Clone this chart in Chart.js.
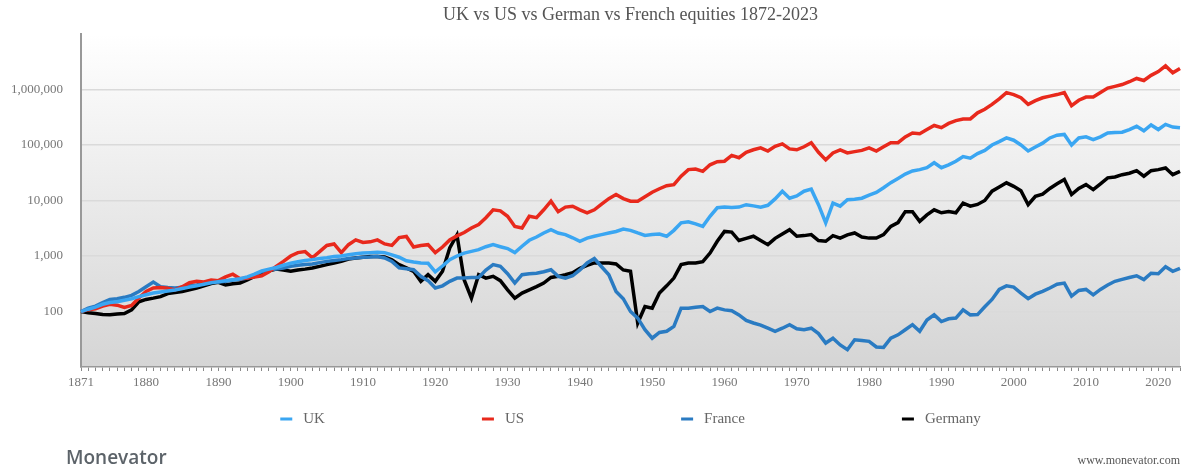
<!DOCTYPE html>
<html>
<head>
<meta charset="utf-8">
<script src="https://cdn.jsdelivr.net/npm/chart.js@4.4.1/dist/chart.umd.min.js"></script>
<style>
    html, body { margin: 0; padding: 0; background: #fff; }
    #wrap { width: 1196px; height: 470px; position: relative; }
</style>
</head>
<body>
<div id="wrap"><canvas id="equitiesChart" width="1196" height="470"></canvas></div>
<script>
// Años 1871-2023
const years = [];
for (let y = 1871; y <= 2023; y++) years.push(y);

// Valores (base 100 en 1871, escala logarítmica)
const ukValues = [
    100, 110, 120, 135, 145, 150, 160, 170, 185, 200,
    215, 225, 235, 245, 260, 275, 290, 310, 330, 345,
    360, 375, 390, 420, 470, 540, 580, 620, 680, 740,
    790, 830, 860, 900, 930, 980, 1000, 1050, 1100, 1130,
    1150, 1170, 1150, 1050, 950, 820, 780, 750, 740, 520,
    660, 860, 1000, 1130, 1210, 1300, 1470, 1600, 1470, 1360,
    1150, 1500, 1920, 2200, 2600, 2980, 2600, 2430, 2130, 1840,
    2100, 2270, 2430, 2600, 2770, 3050, 2900, 2600, 2350, 2430,
    2480, 2270, 2900, 3950, 4150, 3800, 3420, 5200, 7400, 7600,
    7500, 7600, 8400, 8000, 7600, 8200, 10700, 14700, 11000, 12100,
    14700, 16000, 8400, 3950, 9000, 7900, 10300, 10500, 11000, 12500,
    14000, 17000, 21000, 25000, 30000, 34000, 36000, 39000, 48000, 39000,
    44000, 51000, 62000, 58000, 70000, 80000, 100000, 115000, 134000, 122000,
    100000, 78000, 92000, 108000, 134000, 150000, 155000, 100000, 134000, 140000,
    125000, 140000, 165000, 168000, 170000, 190000, 217000, 180000, 230000, 190000,
    235000, 210000, 205000
];

const usValues = [
    100, 108, 112, 125, 135, 130, 118, 128, 175, 230,
    265, 270, 262, 245, 280, 330, 350, 340, 370, 360,
    420, 470, 390, 400, 420, 440, 520, 650, 800, 1000,
    1150, 1200, 930, 1200, 1550, 1650, 1150, 1600, 1950, 1750,
    1800, 1950, 1650, 1550, 2150, 2250, 1450, 1550, 1600, 1150,
    1450, 1950, 2300, 2650, 3200, 3700, 4900, 6800, 6500, 5200,
    3400, 3200, 5200, 4900, 6800, 9700, 6300, 7600, 7900, 6800,
    6000, 6800, 8600, 10800, 12800, 10800, 9700, 9700, 11700, 14100,
    16300, 18500, 19300, 27400, 36000, 37000, 33500, 44000, 50000, 51000,
    65000, 59000, 74000, 82000, 89000, 78000, 95000, 105000, 85000, 82000,
    93000, 110000, 74000, 54000, 72000, 82000, 72000, 76000, 80000, 89000,
    78000, 93000, 110000, 110000, 140000, 165000, 160000, 190000, 225000, 205000,
    245000, 275000, 295000, 295000, 380000, 440000, 540000, 680000, 880000, 810000,
    710000, 540000, 630000, 710000, 760000, 810000, 880000, 510000, 640000, 730000,
    730000, 880000, 1060000, 1140000, 1230000, 1380000, 1580000, 1450000, 1800000, 2100000,
    2660000, 2000000, 2400000
];

const franceValues = [
    100, 115, 125, 145, 165, 170, 180, 195, 230, 280,
    340, 280, 270, 265, 275, 290, 300, 320, 350, 340,
    350, 370, 380, 400, 450, 520, 560, 580, 610, 650,
    680, 700, 720, 760, 800, 830, 860, 900, 920, 950,
    960, 980, 920, 800, 610, 590, 565, 430, 360, 265,
    290, 350, 400, 400, 410, 410, 560, 700, 650, 480,
    325, 460, 480, 490, 520, 565, 430, 400, 440, 560,
    750, 900, 640, 460, 230, 170, 100, 76, 47, 33,
    42, 44, 54, 115, 115, 119, 123, 100, 115, 107,
    103, 87, 69, 62, 57, 50, 44, 50, 58, 49,
    47, 50, 40, 27, 33, 25, 20.5, 31, 30, 29,
    23, 22.5, 33, 38, 47, 58, 44, 70, 87, 66,
    74, 76, 107, 87, 88, 122, 165, 250, 290, 275,
    215, 170, 205, 230, 265, 310, 325, 190, 240, 250,
    200, 250, 300, 350, 380, 410, 440, 375, 490, 480,
    640, 530, 600
];

const germanyValues = [
    100, 95, 92, 88, 87, 90, 92, 107, 150, 165,
    174, 185, 210, 220, 230, 245, 265, 290, 320, 335,
    300, 315, 325, 370, 430, 500, 540, 580, 560, 530,
    560, 580, 610, 650, 700, 750, 800, 880, 920, 950,
    980, 980, 960, 850, 700, 610, 530, 350, 460, 350,
    530, 1400, 2400, 370, 174, 460, 400, 430, 360, 245,
    174, 215, 245, 280, 325, 410, 430, 460, 500, 600,
    680, 750, 750, 750, 720, 560, 530, 62, 123, 115,
    215, 290, 400, 700, 750, 750, 790, 1130, 1840, 2770,
    2700, 1900, 2080, 2270, 1900, 1600, 2080, 2500, 2980, 2270,
    2330, 2430, 1900, 1840, 2330, 2100, 2400, 2600, 2200, 2100,
    2100, 2430, 3420, 4000, 6300, 6300, 4200, 5500, 6800, 6000,
    6300, 6000, 9000, 7900, 8500, 10000, 14700, 17500, 20800, 18000,
    15000, 8400, 11900, 13000, 16500, 20000, 23900, 12800, 16500, 19300,
    15700, 20000, 25600, 26500, 29200, 31000, 34500, 27400, 34500, 36000,
    38600, 29200, 33500
];

// Marcas del eje Y y años etiquetados del eje X
const yTickValues = [10, 100, 1000, 10000, 100000, 1000000, 10000000];
const labeledYears = [1871, 1880, 1890, 1900, 1910, 1920, 1930, 1940, 1950, 1960, 1970, 1980, 1990, 2000, 2010, 2020];

const seriesNames = ['UK', 'US', 'France', 'Germany'];
const seriesColors = ['#3aa6f2', '#e8291c', '#2a7bc2', '#000000'];
const seriesValues = [ukValues, usValues, franceValues, germanyValues];

const SERIF = '"Liberation Serif", "DejaVu Serif", serif';

// Fondo degradado del área del gráfico
const plotBackground = {
    id: 'plotBackground',
    beforeDraw(chart) {
        const { ctx, chartArea } = chart;
        const grad = ctx.createLinearGradient(0, chartArea.top, 0, chartArea.bottom);
        grad.addColorStop(0, '#ffffff');
        grad.addColorStop(1, '#d5d5d5');
        ctx.save();
        ctx.fillStyle = grad;
        ctx.fillRect(chartArea.left, chartArea.top, chartArea.right - chartArea.left, chartArea.bottom - chartArea.top);
        ctx.restore();
    }
};

// Leyenda y pie de página
const legendAndFooter = {
    id: 'legendAndFooter',
    afterDraw(chart) {
        const { ctx, chartArea } = chart;
        ctx.save();
        ctx.font = '15px ' + SERIF;
        ctx.textBaseline = 'middle';
        const markW = 12, textGap = 11, itemGap = 157;
        const widths = seriesNames.map(n => markW + textGap + ctx.measureText(n).width);
        const total = widths.reduce((a, b) => a + b, 0) + itemGap * (seriesNames.length - 1);
        let x = (chartArea.left + chartArea.right) / 2 - total / 2;
        const y = 419;
        seriesNames.forEach((name, i) => {
            ctx.fillStyle = seriesColors[i];
            ctx.fillRect(x, y - 1.5, markW, 3);
            ctx.fillStyle = '#666';
            ctx.textAlign = 'left';
            ctx.fillText(name, x + markW + textGap, y);
            x += widths[i] + itemGap;
        });

        ctx.font = '600 19px "Open Sans", sans-serif';
        ctx.fillStyle = '#5c6369';
        ctx.fillText('Monevator', 66, 459);

        ctx.font = '12px ' + SERIF;
        ctx.fillStyle = '#555';
        ctx.textAlign = 'right';
        ctx.fillText('www.monevator.com', 1180, 461);
        ctx.restore();
    }
};

const ctx = document.getElementById('equitiesChart').getContext('2d');

new Chart(ctx, {
    type: 'line',
    data: {
        labels: years,
        datasets: seriesNames.map((name, i) => ({
            label: name,
            data: seriesValues[i],
            borderColor: seriesColors[i],
            backgroundColor: seriesColors[i],
            borderWidth: 3.5,
            pointRadius: 0,
            tension: 0,
            fill: false
        }))
    },
    options: {
        responsive: false,
        animation: false,
        layout: {
            padding: { left: 0, right: 16, top: 0, bottom: 73 }
        },
        plugins: {
            legend: { display: false },
            tooltip: { enabled: false },
            title: {
                display: true,
                fullSize: false,
                text: 'UK vs US vs German vs French equities 1872-2023',
                color: '#555',
                font: { family: SERIF, size: 18, weight: 'normal' },
                padding: { top: 4, bottom: 8.4 }
            }
        },
        scales: {
            x: {
                type: 'category',
                offset: false,
                afterFit(scale) { scale.height = 30; },
                grid: {
                    display: true,
                    drawOnChartArea: false,
                    drawTicks: true,
                    tickLength: 4,
                    color: '#888'
                },
                border: { display: true, color: '#999', width: 1.5 },
                ticks: {
                    autoSkip: false,
                    maxRotation: 0,
                    minRotation: 0,
                    padding: 4,
                    color: '#777',
                    font: { family: SERIF, size: 13 },
                    callback(value) {
                        const yr = years[value];
                        return labeledYears.includes(yr) ? String(yr) : '';
                    }
                }
            },
            y: {
                type: 'logarithmic',
                min: 10,
                max: 10000000,
                afterFit(scale) { scale.width = 81; },
                afterBuildTicks(scale) {
                    scale.ticks = yTickValues.map(v => ({ value: v }));
                },
                grid: {
                    drawTicks: false,
                    lineWidth: 1.5,
                    color(c) {
                        const v = c.tick && c.tick.value;
                        return (v >= 100 && v <= 1000000) ? '#dadada' : 'rgba(0,0,0,0)';
                    }
                },
                border: { display: true, color: '#999', width: 2 },
                ticks: {
                    padding: 18,
                    color: '#777',
                    font: { family: SERIF, size: 13 },
                    callback(value) {
                        return (value >= 100 && value <= 1000000) ? value.toLocaleString('en-US') : '';
                    }
                }
            }
        }
    },
    plugins: [plotBackground, legendAndFooter]
});
</script>
</body>
</html>
